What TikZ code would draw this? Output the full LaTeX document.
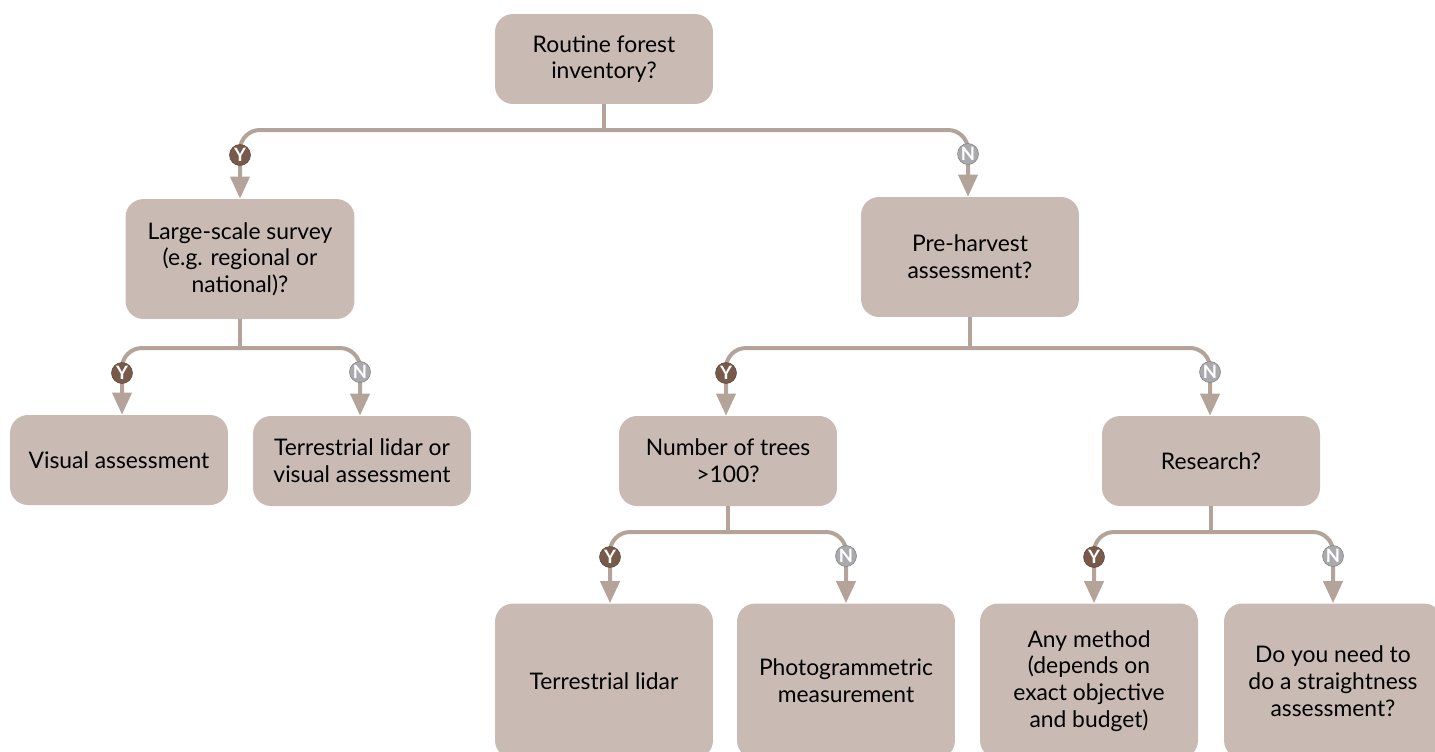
\documentclass[tikz,border=0pt]{standalone}
\usepackage{fontspec}
\setmainfont{Lato}
\usetikzlibrary{arrows.meta,calc}
\definecolor{boxfill}{HTML}{C9BBB3}
\definecolor{conn}{HTML}{B3A399}
\definecolor{yes}{HTML}{775A49}
\definecolor{no}{HTML}{A9A9AE}
\newcommand\boxfont{\fontsize{13}{15.2}\selectfont}

\begin{document}
\begin{tikzpicture}[x=0.02cm,y=-0.02cm,font=\boxfont,
  box/.style={fill=boxfill,rounded corners=0.36cm,minimum width=4.36cm,align=center,inner sep=4pt},
  link/.style={draw=conn,line width=0.08cm,rounded corners=0.4cm},
  tip/.style={-{Triangle[length=0.44cm,width=0.38cm]}},
  ymark/.style={circle,fill=yes,draw=yes!80!black,line width=0.3pt,inner sep=0pt,minimum size=0.42cm,text=white,font=\bfseries\fontsize{10.5}{10.5}\selectfont},
  nmark/.style={ymark,fill=no,draw=no!75!black}]

\useasboundingbox (0,0) rectangle (1435,751);
\clip (0,0) rectangle (1435,751);

%% questions
\node[box,minimum height=1.8cm] (inv) at (604,59) {Routine forest\\inventory?};
\node[box,minimum width=4.58cm,minimum height=2.4cm] (survey) at (240,259) {Large-scale survey\\(e.g. regional or\\national)?};
\node[box,minimum height=2.4cm] (preh) at (970,257) {Pre-harvest\\assessment?};
\node[box,minimum height=1.8cm] (trees) at (728,461) {Number of trees\\>100?};
\node[box,minimum height=1.8cm] (research) at (1211,461) {Research?};

%% outcomes
\node[box,minimum height=1.8cm] (visual) at (119,460) {Visual assessment};
\node[box,minimum height=1.8cm] (tlvis) at (362,461) {Terrestrial lidar or\\visual assessment};
\node[box,minimum height=3.1cm] (tlidar) at (604,681) {Terrestrial lidar};
\node[box,minimum height=3.1cm] (photo) at (846,681) {Photogrammetric\\measurement};
\node[box,minimum height=3.1cm] (anymeth) at (1089,681) {Any method\\(depends on\\exact objective\\and budget)};
\node[box,minimum height=3.1cm] (straight) at (1333,681) {Do you need to\\do a straightness\\assessment?};

%% yes/no branches
\foreach \p/\b/\c/\xc/\d/\xd in {inv/130/survey/240/preh/968,
    survey/348/visual/122/tlvis/360, preh/348/trees/726/research/1210,
    trees/532/tlidar/610/photo/846, research/532/anymeth/1094/straight/1333} {
  \coordinate (bar) at (0,\b);
  \coordinate (cy) at (\xc,0);
  \coordinate (cn) at (\xd,0);
  \draw[link] (\p.south) -- (\p.south |- bar);
  \draw[link,tip] (\p.south |- bar) -| (\c.north -| cy);
  \draw[link,tip] (\p.south |- bar) -| (\d.north -| cn);
  \node[ymark] at ($(cy |- bar)+(0,25)$) {Y};
  \node[nmark] at ($(cn |- bar)+(0,24)$) {N};
}
\end{tikzpicture}
\end{document}
